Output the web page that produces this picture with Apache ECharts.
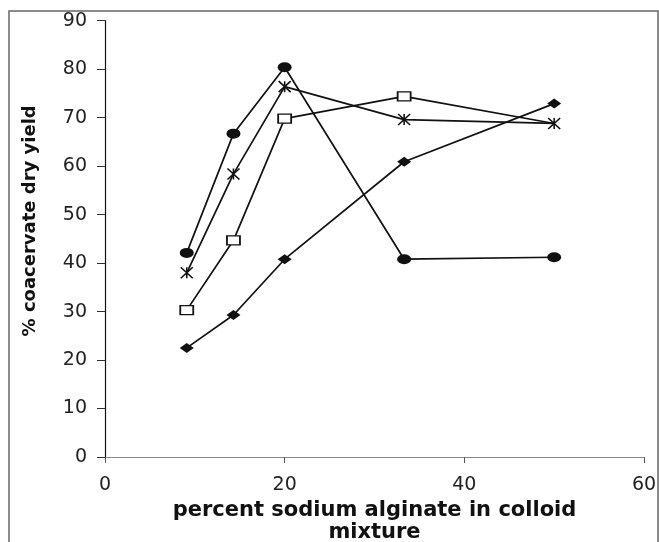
<!DOCTYPE html>
<html><head><meta charset="utf-8">
<script src="https://cdn.jsdelivr.net/npm/echarts@6/dist/echarts.min.js"></script>
<style>html,body{margin:0;padding:0;background:#fff}#c{width:659px;height:542px}</style>
</head><body><div id="c"></div>
<script>
// Data
const xValues = [9.1, 14.3, 20, 33.3, 50];
const circleSeries = [42.1, 66.7, 80.4, 40.8, 41.2];
const starSeries = [38.0, 58.4, 76.4, 69.6, 68.8];
const squareSeries = [30.3, 44.7, 69.8, 74.4, 68.8];
const diamondSeries = [22.5, 29.3, 40.8, 60.9, 72.9];
const xTicks = [0, 20, 40, 60];
const yTicks = [0, 10, 20, 30, 40, 50, 60, 70, 80, 90];
const xTitle = 'percent sodium alginate in colloid\nmixture';
const yTitle = '% coacervate dry yield';

const pair = arr => xValues.map((x, i) => [x, arr[i]]);
const ink = '#111';
const tickFont = 'DejaVu Sans';

const chart = echarts.init(document.getElementById('c'), null, {renderer: 'canvas'});
function lineSeries(name, data, symbol, size, fill) {
  return {
    name, type: 'line', data, symbol, symbolSize: size,
    lineStyle: {color: ink, width: 1.7},
    itemStyle: {color: fill, borderColor: ink, borderWidth: fill === ink ? 0 : 1.5},
    emphasis: {disabled: true}, animation: false
  };
}
// the last square coincides with the last star; only the star is visible there
const squareData = pair(squareSeries).map((p, i, a) => i === a.length - 1 ? {value: p, symbol: 'none'} : p);
chart.setOption({
  backgroundColor: '#fff',
  animation: false,
  graphic: [{type: 'rect', shape: {x: 9, y: 11, width: 649, height: 540}, style: {fill: 'none', stroke: '#666', lineWidth: 1.5}, silent: true, z: -1}],
  grid: {left: 105, right: 15, top: 20.7, bottom: 85, containLabel: false, outerBoundsMode: 'none'},
  xAxis: {
    type: 'value', min: 0, max: 60, interval: 20,
    axisLine: {lineStyle: {color: '#888', width: 1.2}},
    axisTick: {show: true, length: 6, lineStyle: {color: '#555'}},
    splitLine: {show: false},
    axisLabel: {fontFamily: tickFont, fontSize: 19, color: '#222', margin: 19,
      formatter: v => xTicks.includes(v) ? String(v) : ''},
    name: xTitle, nameLocation: 'middle', nameGap: 40,
    nameTextStyle: {fontFamily: 'DejaVu Sans', fontWeight: 'bold', fontSize: 21, color: '#111', lineHeight: 22}
  },
  yAxis: {
    type: 'value', min: 0, max: 90, interval: 10,
    axisLine: {show: true, lineStyle: {color: '#111', width: 1.2}},
    axisTick: {show: true, length: 8, lineStyle: {color: '#333'}},
    splitLine: {show: false},
    axisLabel: {fontFamily: tickFont, fontSize: 19, color: '#222', margin: 18,
      formatter: v => yTicks.includes(v) ? String(v) : ''},
    name: yTitle, nameLocation: 'middle', nameGap: 66, nameRotate: 90,
    nameTextStyle: {fontFamily: 'DejaVu Sans', fontWeight: 'bold', fontSize: 18, color: '#111', padding: [0, 0, 0, 36]}
  },
  series: [
    lineSeries('diamond', pair(diamondSeries), 'diamond', [14, 10], ink),
    lineSeries('square', squareData, 'rect', [13, 9], '#fff'),
    lineSeries('star', pair(starSeries), 'path://M0,0L10,10M10,0L0,10M5,0L5,10', [12, 11], 'rgba(0,0,0,0)'),
    lineSeries('circle', pair(circleSeries), 'circle', [14, 10], ink)
  ]
});
</script></body></html>
